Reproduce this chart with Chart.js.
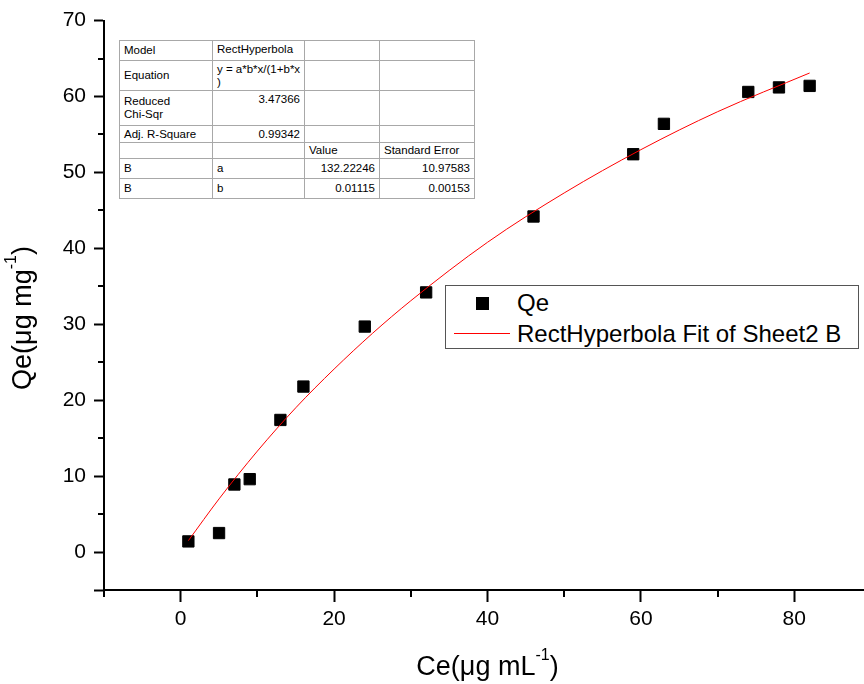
<!DOCTYPE html>
<html>
<head>
<meta charset="utf-8">
<script src="https://cdn.jsdelivr.net/npm/chart.js@4.4.1/dist/chart.umd.min.js"></script>
<style>
  html, body { margin: 0; padding: 0; background: #fff; }
  #wrap { position: relative; width: 864px; height: 684px; overflow: hidden; font-family: 'Liberation Sans', Arial, sans-serif; }
  #chart { position: absolute; left: 0; top: 0; }
  #fitTable { position: absolute; left: 119px; top: 40px; width: 355px; table-layout: fixed; border-collapse: collapse; font-size: 11.5px; color: #000; border: 1px solid #000; background: #fff; }
  #fitTable td { border: 1px solid #a8a8a8; padding: 0 4px; vertical-align: middle; line-height: 13px; overflow: hidden; white-space: nowrap; }
  #fitTable td.t { vertical-align: top; padding-top: 2px; }
  #fitTable td.r { text-align: right; }
  #legendBox { position: absolute; left: 445px; top: 285px; width: 412px; height: 62px; border: 1px solid #555; background: #fff; font-size: 24px; line-height: 24px; color: #000; }
  #legendBox .sq { position: absolute; left: 30px; top: 11px; width: 13px; height: 13px; background: #000; }
  #legendBox .ln { position: absolute; left: 8px; top: 47px; width: 56px; height: 1px; background: #ff0000; }
  #legendBox .lbl { position: absolute; left: 71px; white-space: nowrap; }
</style>
</head>
<body>
<div id="wrap">
  <canvas id="chart" width="880" height="684"></canvas>
  <table id="fitTable">
    <colgroup><col style="width:93px"><col style="width:92px"><col style="width:75px"><col style="width:95px"></colgroup>
    <tr style="height:20px"><td>Model</td><td class="t">RectHyperbola</td><td></td><td></td></tr>
    <tr style="height:30px"><td>Equation</td><td class="t">y = a*b*x/(1+b*x<br>)</td><td></td><td></td></tr>
    <tr style="height:35px"><td>Reduced<br>Chi-Sqr</td><td class="t r">3.47366</td><td></td><td></td></tr>
    <tr style="height:17px"><td>Adj. R-Square</td><td class="t r">0.99342</td><td></td><td></td></tr>
    <tr style="height:16px"><td></td><td></td><td>Value</td><td>Standard Error</td></tr>
    <tr style="height:20px"><td>B</td><td>a</td><td class="r">132.22246</td><td class="r">10.97583</td></tr>
    <tr style="height:20px"><td>B</td><td>b</td><td class="r">0.01115</td><td class="r">0.00153</td></tr>
  </table>
  <div id="legendBox">
    <div class="sq"></div>
    <div class="lbl" id="lblQe" style="top:5px"></div>
    <div class="ln"></div>
    <div class="lbl" id="lblFit" style="top:36px"></div>
  </div>
</div>
<script>
// measured points
const ceValues = [1, 5, 7, 9, 13, 16, 24, 32, 46, 59, 63, 74, 78, 82];
const qeValues = [1.4, 2.5, 8.9, 9.6, 17.4, 21.8, 29.7, 34.2, 44.2, 52.4, 56.4, 60.6, 61.2, 61.4];

// fit curve
const fitCe = [1, 5, 10, 15, 20, 25, 30, 40, 50, 60, 70, 82];
const fitQe = [1.5, 7.0, 13.3, 19.0, 24.1, 28.8, 33.1, 40.8, 47.3, 53.0, 58.0, 63.1];

const xMajorTicks = [0, 20, 40, 60, 80];
const xMinorTicks = [-10, 10, 30, 50, 70, 90];
const yMajorTicks = [-5, 0, 10, 20, 30, 40, 50, 60, 70];
const yMinorTicks = [5, 15, 25, 35, 45, 55, 65];

const seriesLabel = 'Qe';
const fitLabel = 'RectHyperbola Fit of Sheet2 B';

document.getElementById('lblQe').textContent = seriesLabel;
document.getElementById('lblFit').textContent = fitLabel;

const fontFamily = "'Liberation Sans', Arial, sans-serif";

// text with a superscript part: [main, sup, tail]
function drawSupText(ctx, parts, cx, baseY) {
    ctx.font = '27px ' + fontFamily;
    const w1 = ctx.measureText(parts[0]).width;
    const w3 = ctx.measureText(parts[2]).width;
    ctx.font = '16px ' + fontFamily;
    const w2 = ctx.measureText(parts[1]).width;
    let x = cx - (w1 + w2 + w3) / 2;
    ctx.textAlign = 'left';
    ctx.textBaseline = 'alphabetic';
    ctx.font = '27px ' + fontFamily;
    ctx.fillText(parts[0], x, baseY);
    x += w1;
    ctx.font = '16px ' + fontFamily;
    ctx.fillText(parts[1], x, baseY - 15);
    x += w2;
    ctx.font = '27px ' + fontFamily;
    ctx.fillText(parts[2], x, baseY);
}

const axisExtras = {
    id: 'axisExtras',
    afterDraw(chart) {
        const ctx = chart.ctx;
        const xs = chart.scales.x, ys = chart.scales.y;
        const area = chart.chartArea;
        ctx.save();
        ctx.strokeStyle = '#000';
        ctx.lineWidth = 2;
        ctx.beginPath();
        xMinorTicks.forEach(v => {
            const px = Math.round(xs.getPixelForValue(v));
            ctx.moveTo(px, area.bottom);
            ctx.lineTo(px, area.bottom + 7);
        });
        yMinorTicks.forEach(v => {
            const py = Math.round(ys.getPixelForValue(v));
            ctx.moveTo(area.left - 6, py);
            ctx.lineTo(area.left, py);
        });
        ctx.stroke();

        ctx.fillStyle = '#000';
        drawSupText(ctx, ['Ce(\u03bcg mL', '-1', ')'], (area.left + area.right) / 2, 675);
        ctx.translate(31, 318);
        ctx.rotate(-Math.PI / 2);
        drawSupText(ctx, ['Qe(\u03bcg mg', '-1', ')'], 0, 0);
        ctx.restore();
    }
};

new Chart(document.getElementById('chart'), {
    type: 'scatter',
    data: {
        datasets: [{
            label: fitLabel,
            data: fitCe.map((x, i) => ({ x: x, y: fitQe[i] })),
            showLine: true,
            borderColor: '#ff0000',
            borderWidth: 1,
            pointRadius: 0,
            cubicInterpolationMode: 'monotone'
        }, {
            label: seriesLabel,
            data: ceValues.map((x, i) => ({ x: x, y: qeValues[i] })),
            pointStyle: 'rect',
            pointRadius: 8,
            backgroundColor: '#000',
            borderColor: '#000',
            borderWidth: 1
        }]
    },
    options: {
        responsive: false,
        animation: false,
        layout: { padding: { top: 20, right: 9, bottom: 0, left: 0 } },
        plugins: { legend: { display: false }, tooltip: { enabled: false } },
        scales: {
            x: {
                type: 'linear',
                min: -10,
                max: 90,
                afterBuildTicks: s => { s.ticks = xMajorTicks.map(v => ({ value: v })); },
                afterFit: s => { s.height = 94; },
                grid: { drawOnChartArea: false, drawTicks: true, tickLength: 12, tickWidth: 2, tickColor: '#000' },
                border: { display: true, color: '#000', width: 2 },
                ticks: { font: { family: fontFamily, size: 21 }, color: '#000', padding: 5, maxRotation: 0, autoSkip: false }
            },
            y: {
                type: 'linear',
                min: -5,
                max: 70,
                afterBuildTicks: s => { s.ticks = yMajorTicks.map(v => ({ value: v })); },
                afterFit: s => { s.width = 104; },
                grid: { drawOnChartArea: false, drawTicks: true, tickLength: 10, tickWidth: 2, tickColor: '#000' },
                border: { display: true, color: '#000', width: 2 },
                ticks: {
                    font: { family: fontFamily, size: 21 }, color: '#000', padding: 8, autoSkip: false,
                    callback: v => (v < 0 ? '' : v)
                }
            }
        }
    },
    plugins: [axisExtras]
});
</script>
</body>
</html>
